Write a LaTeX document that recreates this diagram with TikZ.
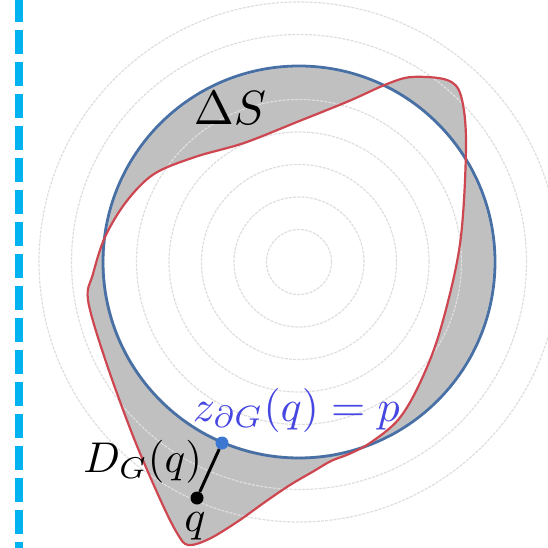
\documentclass[tikz,border=0pt]{standalone}
\usepackage{amsmath,amssymb}
\usepackage{tikz}
\usetikzlibrary{arrows.meta,positioning,calc}
\usepackage{xcolor}

\definecolor{sepblue}{RGB}{0,178,240}
\definecolor{circblue}{RGB}{72,112,165}
\definecolor{blobred}{RGB}{205,70,80}
\definecolor{areagray}{RGB}{192,192,192}
\definecolor{labelblue}{RGB}{70,70,225}
\definecolor{dotblue}{RGB}{60,120,210}

\tikzset{
    ring/.style={black!13, line width=1.2pt, dash pattern=on 3pt off 1.2pt},
    dotnode/.style={circle, inner sep=0pt, minimum size=13pt},
    bigmath/.style={inner sep=0pt, scale=4.4, transform shape},
}

% red boundary of G
\def\blobpath{plot[smooth cycle, tension=0.55] coordinates {
    (412,77) (447,80) (461,96) (466,145) (460,244) (440,331) (419,385)
    (398,420) (370,443) (349,454) (331,461) (314,471) (290,485)
    (265,502) (237,522) (209,539)
    (188,545) (177,533) (160,499) (133,436) (105,359) (88,300)
    (93,274) (105,237) (126,202) (154,174) (195,157) (244,143)
    (297,122) (349,101) (387,84)}}

\begin{document}
\begin{tikzpicture}[>=Stealth, x=1pt, y=-1pt]
    \useasboundingbox (0,0) rectangle (547,548);
    \coordinate (o) at (299,262);

    \draw[sepblue, line width=8pt, dash pattern=on 24pt off 8pt, dash phase=2pt] (18.7,0) -- (18.7,548);

    \fill[areagray, even odd rule] (o) circle[radius=196pt] \blobpath;
    \foreach \r in {1,...,8}
        \draw[ring] (o) circle[radius=32.5pt*\r];

    \draw[circblue, line width=2.8pt] (o) circle[radius=196pt];
    \draw[blobred, line width=2.2pt] \blobpath;

    \node[bigmath, scale=4.8/4.4, anchor=base west] (dS) at (193,125) {$\Delta S$};

    \node[dotnode, fill=black] (q) at (197,498) {};
    \node[dotnode, fill=dotblue] (p) at (222,443) {};
    \draw[black, line width=3pt] (p) -- (q);
    \node[bigmath, scale=4.3/4.4, anchor=base east] (dist) at (203,472) {$D_G(q)$};
    \node[bigmath, anchor=base] (qlab) at (195,531) {$q$};
    \node[bigmath, labelblue, anchor=base west] (zp) at (192,421) {$z_{\partial G}(q) = p$};
\end{tikzpicture}
\end{document}
